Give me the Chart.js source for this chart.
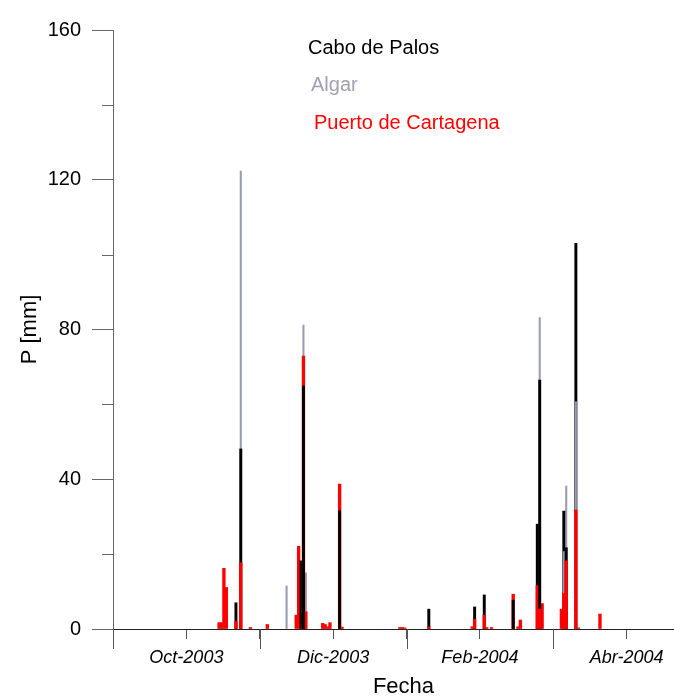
<!DOCTYPE html>
<html><head><meta charset="utf-8">
<script src="https://cdn.jsdelivr.net/npm/chart.js@4/dist/chart.umd.min.js"></script>
<style>html,body{margin:0;padding:0;overflow:hidden;background:#fff}canvas{display:block}</style>
</head><body>
<canvas id="c" width="694" height="697"></canvas>
<script>
// ---- data ----
const seriesNames = ['Cabo de Palos', 'Algar', 'Puerto de Cartagena'];
// day index counted from the first tick of the time axis
const days = [44,45,46,47,51,53,57,64,72,76,77,78,79,80,87,88,89,90,94,95,119,120,121,131,149,150,154,155,157,166,168,169,176,177,178,186,187,188,192,193,202];
const caboDePalos = [null,null,null,null,7.0,48.1,null,null,null,null,null,18.2,64.9,null,null,null,null,null,31.6,null,null,null,null,5.3,null,5.9,9.1,null,null,7.7,null,null,28.0,66.5,null,null,31.5,21.7,103.0,null,null];
const algar = [null,null,null,null,null,122.3,null,null,11.5,null,null,null,81.2,15.0,null,null,null,null,null,null,null,null,null,null,null,null,null,null,null,null,null,null,null,83.2,null,null,20.7,38.2,60.7,null,null];
const puertoCartagena = [1.7,1.7,16.2,11.1,2.0,17.7,0.4,1.2,null,3.7,22.1,null,72.9,4.6,1.5,1.2,0.6,1.7,38.7,0.5,0.4,0.4,0.3,0.6,0.6,2.6,3.7,0.4,0.4,9.3,0.6,2.4,11.6,5.3,6.8,5.3,9.5,18.2,31.8,0.3,4.0];
const tickDays = [0, 30.44, 60.88, 91.31, 121.75, 152.19, 182.63, 213.06];
const tickLabels = ['', 'Oct-2003', '', 'Dic-2003', '', 'Feb-2004', '', 'Abr-2004'];
const yTicks = [0, 40, 80, 120, 160];
const yMinorTicks = [20, 60, 100, 140];

// ---- styling ----
const series = [caboDePalos, algar, puertoCartagena];
const barColors = ['#000000', '#9a9ab2', '#ff0000'];
const legendColors = ['#000000', '#a0a0b0', '#ff0000'];
const barWidths = [2.3, 1.4, 2.7];
const FONT = '"Liberation Sans", Arial, Helvetica, sans-serif';

// overlapping bars: on each day the tallest value is drawn first (behind)
const datasets = [];
for (let layer = 0; layer < 3; layer++) {
  for (let s = 0; s < 3; s++) {
    const pts = [];
    days.forEach((d, i) => {
      const vals = series.map(a => a[i]);
      const present = [0, 1, 2].filter(j => vals[j] != null).sort((a, b) => vals[b] - vals[a]);
      if (present[layer] === s) pts.push({ x: d, y: vals[s] });
    });
    datasets.push({
      label: seriesNames[s], data: pts, backgroundColor: barColors[s],
      borderWidth: 0, barThickness: barWidths[s], grouped: false, order: 3 - layer
    });
  }
}

const decor = {
  id: 'decor',
  afterDraw(chart) {
    const { ctx, chartArea, scales: { x, y } } = chart;
    ctx.save();
    ctx.lineWidth = 1;
    ctx.strokeStyle = '#555';
    tickDays.forEach((v, k) => {
      if (k % 2 === 0) {
        const px = Math.round(x.getPixelForValue(v)) + 0.5;
        ctx.beginPath(); ctx.moveTo(px, chartArea.bottom); ctx.lineTo(px, chartArea.bottom + 20); ctx.stroke();
      }
    });
    ctx.strokeStyle = '#666';
    yMinorTicks.forEach(v => {
      const py = Math.round(y.getPixelForValue(v)) + 0.5;
      ctx.beginPath(); ctx.moveTo(chartArea.left - 11, py); ctx.lineTo(chartArea.left, py); ctx.stroke();
    });
    ctx.font = '20px ' + FONT;
    ctx.textBaseline = 'middle';
    ctx.textAlign = 'left';
    const lx = [308, 311, 314], ly = [48, 85, 123];
    seriesNames.forEach((n, i) => { ctx.fillStyle = legendColors[i]; ctx.fillText(n, lx[i], ly[i]); });
    ctx.restore();
  }
};

new Chart(document.getElementById('c'), {
  type: 'bar',
  data: { datasets },
  options: {
    responsive: false, animation: false,
    layout: { padding: { top: 30, left: 0, right: 0, bottom: 0 } },
    plugins: { legend: { display: false }, tooltip: { enabled: false } },
    scales: {
      x: {
        type: 'linear', min: 0, max: 241, offset: false,
        afterBuildTicks: ax => { ax.ticks = tickDays.map(v => ({ value: v })); },
        afterFit: ax => { ax.height = 68; },
        ticks: {
          autoSkip: false, maxRotation: 0, padding: 8, color: '#000',
          font: { family: FONT, size: 18, style: 'italic' },
          callback: (v, i) => tickLabels[i]
        },
        grid: { offset: false, drawOnChartArea: false, drawTicks: true, tickLength: 10, tickColor: '#555' },
        border: { display: true, color: '#222' },
        title: { display: true, text: 'Fecha', color: '#000', font: { family: FONT, size: 22, lineHeight: 0.9 }, padding: { top: 0, bottom: 0 } }
      },
      y: {
        type: 'linear', min: 0, max: 160,
        afterBuildTicks: ax => { ax.ticks = yTicks.map(v => ({ value: v })); },
        afterFit: ax => { ax.width = 113; },
        ticks: { padding: 11, color: '#000', font: { family: FONT, size: 20 } },
        grid: { drawOnChartArea: false, drawTicks: true, tickLength: 21, tickColor: '#666' },
        border: { display: true, color: '#666' },
        title: { display: true, text: 'P [mm]', color: '#000', font: { family: FONT, size: 22 }, padding: { top: 17, bottom: 0 } }
      }
    }
  },
  plugins: [decor]
});
</script>
</body></html>
